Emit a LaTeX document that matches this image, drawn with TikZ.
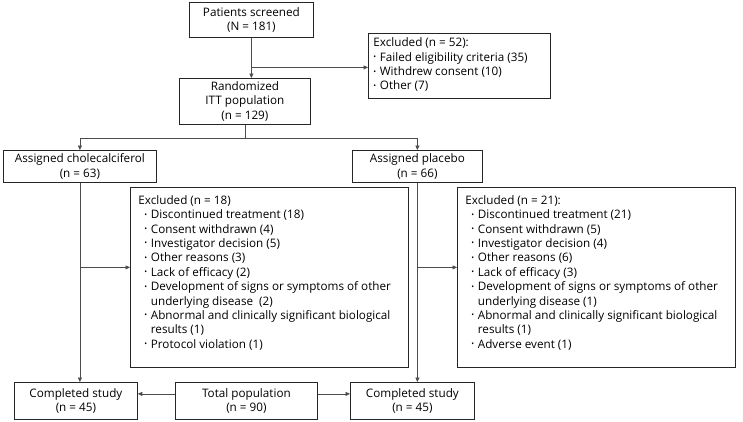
\documentclass[tikz,border=0pt]{standalone}
\usepackage{fontspec}
\setmainfont{Open Sans}
\usetikzlibrary{arrows.meta}
\newcommand{\bul}{\makebox[6.5pt][l]{\raisebox{0.25ex}{\fontsize{7.5}{7.5}\selectfont\textbullet}}}
\newcommand{\ind}{\hspace*{6pt}}
\begin{document}
\begin{tikzpicture}[x=1pt,y=-1pt,
  txt/.style={font=\fontsize{11.7}{14.4}\selectfont},
  box/.style={txt, draw=black!85, line width=0.8pt, align=center, inner sep=0pt, anchor=north west},
  lst/.style={txt, draw=black!85, line width=0.8pt, inner sep=0pt, anchor=north west},
  conn/.style={draw=black!70, line width=0.7pt},
  arr/.style={conn, -{Triangle[length=4.5pt,width=4pt]}}]
\useasboundingbox (0,0) rectangle (743,421);
\fill[white] (0,0) rectangle (743,421);
% top
\node[box, minimum width=124pt, minimum height=35pt] (scr) at (189,2) {Patients screened\\(N = 181)};
\node[lst] (ex52) at (368,33) {\parbox[c][65pt][t]{182pt}{\leftskip=5pt\relax\vspace*{4.5pt}%
Excluded (n = 52):\\
\bul Failed eligibility criteria (35)\\
\bul Withdrew consent (10)\\
\bul Other (7)}};
\node[box, minimum width=131pt, minimum height=46pt] (rand) at (179,78) {Randomized\\ITT population\\(n = 129)};
% arms
\node[box, minimum width=153pt, minimum height=32pt] (chol) at (3,150) {Assigned cholecalciferol\\(n = 63)};
\node[box, minimum width=130pt, minimum height=32pt] (plac) at (352,150) {Assigned placebo\\(n = 66)};
\node[lst] (ex18) at (130,187) {\parbox[c][180pt][t]{278pt}{\leftskip=8pt\relax\vspace*{8pt}%
Excluded (n = 18)\\
\ind\bul Discontinued treatment (18)\\
\ind\bul Consent withdrawn (4)\\
\ind\bul Investigator decision (5)\\
\ind\bul Other reasons (3)\\
\ind\bul Lack of efficacy (2)\\
\ind\bul Development of signs or symptoms of other\\
\ind\hspace*{6.5pt}underlying disease \ (2)\\
\ind\bul Abnormal and clinically significant biological\\
\ind\hspace*{6.5pt}results (1)\\
\ind\bul Protocol violation (1)}};
\node[lst] (ex21) at (457,187) {\parbox[c][180pt][t]{278pt}{\leftskip=8pt\relax\vspace*{8pt}%
Excluded (n = 21):\\
\ind\bul Discontinued treatment (21)\\
\ind\bul Consent withdrawn (5)\\
\ind\bul Investigator decision (4)\\
\ind\bul Other reasons (6)\\
\ind\bul Lack of efficacy (3)\\
\ind\bul Development of signs or symptoms of other\\
\ind\hspace*{6.5pt}underlying disease (1)\\
\ind\bul Abnormal and clinically significant biological\\
\ind\hspace*{6.5pt}results (1)\\
\ind\bul Adverse event (1)}};
% bottom
\node[box, minimum width=123pt, minimum height=37pt] (compL) at (14,382) {Completed study\\(n = 45)};
\node[box, minimum width=142pt, minimum height=37pt] (tot) at (175,382) {Total population\\(n = 90)};
\node[box, minimum width=124pt, minimum height=37pt] (compR) at (350,382) {Completed study\\(n = 45)};
% connectors
\draw[arr] (scr.south) -- (scr.south |- rand.north);
\draw[arr] ([yshift=-1.5pt]scr.south |- ex52.west) -- ([yshift=-1.5pt]ex52.west);
\draw[arr] (rand.south) -- ++(0,14) -| (chol.north);
\draw[arr] (rand.south) -- ++(0,14) -| (plac.north);
\draw[arr] (chol.south) -- (chol.south |- compL.north);
\draw[arr] ([yshift=10pt]chol.south |- ex18.west) -- ([yshift=10pt]ex18.west);
\draw[arr] (plac.south) -- (plac.south |- compR.north);
\draw[arr] ([yshift=10pt]plac.south |- ex21.west) -- ([yshift=10pt]ex21.west);
\draw[arr] ([yshift=7pt]tot.west) -- ([yshift=7pt]tot.west -| compL.east);
\draw[arr] ([yshift=7pt]tot.east) -- ([yshift=7pt]tot.east -| compR.west);
\end{tikzpicture}
\end{document}
